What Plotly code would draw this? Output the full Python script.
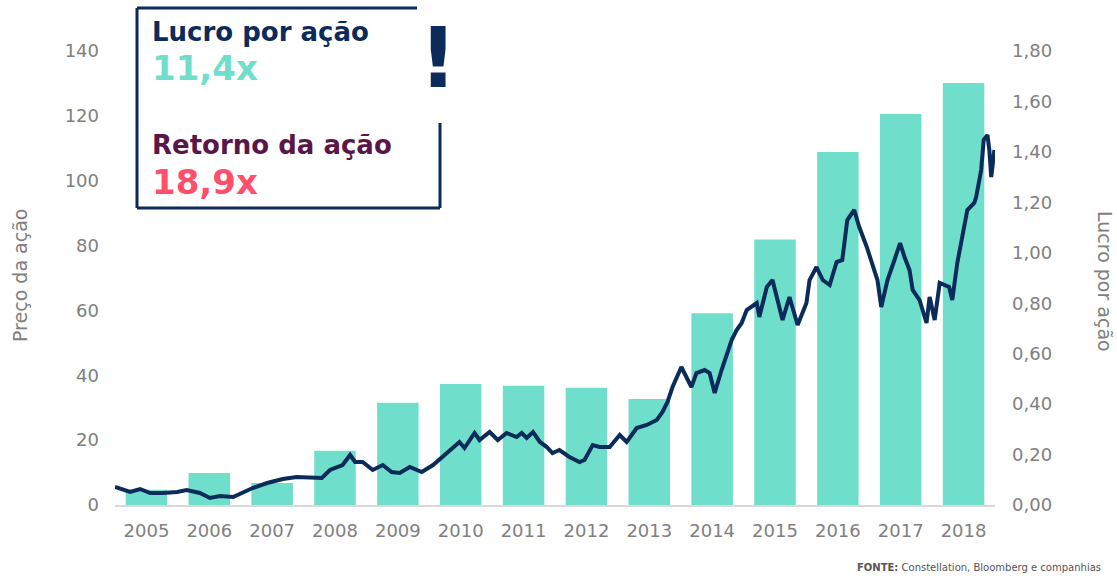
import plotly.graph_objects as go

# ---- data ----
years = [2005, 2006, 2007, 2008, 2009, 2010, 2011, 2012, 2013, 2014, 2015, 2016, 2017, 2018]
year_labels = [str(y) for y in years]
eps = [0.06, 0.127, 0.087, 0.215, 0.405, 0.48, 0.473, 0.465, 0.42, 0.76, 1.053, 1.40, 1.55, 1.673]

price_t = [2004.50, 2004.63, 2004.74, 2004.90, 2005.06, 2005.26, 2005.49, 2005.64, 2005.85, 2006.01,
           2006.17, 2006.38, 2006.53, 2006.69, 2006.92, 2007.17, 2007.39, 2007.60, 2007.79, 2007.92,
           2008.12, 2008.24, 2008.32, 2008.44, 2008.60, 2008.76, 2008.90, 2009.03, 2009.19, 2009.38,
           2009.56, 2009.78, 2009.98, 2010.06, 2010.22, 2010.30, 2010.46, 2010.59, 2010.73, 2010.89,
           2010.97, 2011.05, 2011.15, 2011.26, 2011.37, 2011.46, 2011.57, 2011.73, 2011.89, 2011.97,
           2012.10, 2012.21, 2012.37, 2012.53, 2012.64, 2012.80, 2012.96, 2013.12, 2013.21, 2013.29,
           2013.37, 2013.51, 2013.67, 2013.75, 2013.88, 2013.96, 2014.04, 2014.15, 2014.31, 2014.39,
           2014.47, 2014.55, 2014.71, 2014.75, 2014.87, 2014.96, 2015.04, 2015.12, 2015.23, 2015.28,
           2015.36, 2015.50, 2015.55, 2015.66, 2015.76, 2015.87, 2015.98, 2016.07, 2016.15, 2016.26,
           2016.34, 2016.46, 2016.55, 2016.63, 2016.69, 2016.79, 2016.90, 2016.99, 2017.06, 2017.14,
           2017.19, 2017.30, 2017.41, 2017.46, 2017.54, 2017.62, 2017.77, 2017.82, 2017.90, 2017.98,
           2018.06, 2018.17, 2018.20, 2018.28, 2018.32, 2018.38, 2018.41, 2018.44, 2018.49]
price = [5.55, 4.63, 4.01, 4.93, 3.70, 3.70, 4.01, 4.63, 3.70, 2.16,
         2.78, 2.47, 3.70, 5.24, 6.78, 8.02, 8.63, 8.63, 8.33, 10.79,
         12.33, 15.42, 13.26, 13.26, 10.79, 12.33, 10.18, 9.87, 11.72, 10.18,
         12.33, 16.03, 19.43, 17.58, 22.20, 20.04, 22.51, 20.04, 22.20, 20.97,
         22.20, 20.66, 22.51, 19.43, 17.88, 16.03, 16.96, 14.80, 13.26, 13.88,
         18.50, 17.88, 17.88, 21.59, 19.43, 23.74, 24.67, 26.21, 28.68, 31.76,
         36.39, 42.55, 36.39, 40.70, 41.63, 40.70, 34.54, 41.63, 50.88, 53.96,
         56.12, 60.13, 62.29, 57.97, 67.22, 69.38, 63.21, 57.05, 64.14, 61.05,
         55.50, 62.29, 69.38, 73.39, 69.38, 67.84, 74.93, 75.55, 87.88, 90.97,
         85.72, 79.56, 74.62, 69.38, 61.05, 69.38, 75.55, 80.79, 76.47, 72.46,
         66.30, 63.21, 56.12, 64.14, 57.05, 68.46, 67.22, 63.21, 74.62, 82.64,
         90.97, 93.12, 94.97, 103.30, 112.55, 114.09, 109.47, 101.14, 109.47]

NAVY = "#0B2B5B"
TEAL = "#6FDFCB"
GRAY = "#808080"
FONT = "DejaVu Sans"

fig = go.Figure()
fig.add_trace(go.Bar(x=years, y=eps, width=0.66, marker=dict(color=TEAL, line=dict(width=0)),
                     yaxis="y", name="Lucro por ação"))
fig.add_trace(go.Scatter(x=price_t, y=price, mode="lines", line=dict(color=NAVY, width=4),
                         yaxis="y2", name="Preço da ação"))

L, R, T, B = 115, 122, 51, 71
W, H = 1117, 576
pw, ph = W - L - R, H - T - B


def px(x):
    return (x - L) / pw


def py(y):
    return (H - B - y) / ph


fig.update_layout(
    width=W, height=H,
    margin=dict(l=L, r=R, t=T, b=B),
    paper_bgcolor="white", plot_bgcolor="white",
    separators=",.",
    showlegend=False,
    font=dict(family=FONT, color=GRAY, size=18),
    xaxis=dict(range=[2004.5, 2018.5], tickvals=years, ticktext=year_labels,
               showgrid=False, zeroline=False, showline=True, linecolor="#D9D9D9", linewidth=1.5,
               ticks="", ticklabelstandoff=9, tickfont=dict(size=18, color=GRAY)),
    yaxis=dict(range=[0, 1.8], side="right", tickvals=[i * 0.2 for i in range(10)], tickformat=".2f",
               showgrid=False, zeroline=False, showline=False, ticks="",
               ticklabelstandoff=16, tickfont=dict(size=18, color=GRAY)),
    yaxis2=dict(range=[0, 140], side="left", overlaying="y", tickvals=list(range(0, 141, 20)),
                showgrid=False, zeroline=False, showline=False, ticks="",
                ticklabelstandoff=15, tickfont=dict(size=18, color=GRAY)),
)

# text box
bx0, bx1, by0, by1 = px(137), px(440), py(8), py(208)
lw = 3
fig.add_shape(type="line", xref="paper", yref="paper", x0=bx0, x1=px(417), y0=by0, y1=by0,
              line=dict(color=NAVY, width=lw))
fig.add_shape(type="line", xref="paper", yref="paper", x0=bx0, x1=bx0, y0=by0, y1=by1,
              line=dict(color=NAVY, width=lw))
fig.add_shape(type="line", xref="paper", yref="paper", x0=bx0, x1=bx1, y0=by1, y1=by1,
              line=dict(color=NAVY, width=lw))
fig.add_shape(type="line", xref="paper", yref="paper", x0=bx1, x1=bx1, y0=py(123), y1=by1,
              line=dict(color=NAVY, width=lw))


def ann(text, x, y, size, color, xanchor="left", bold=True, angle=0, family=FONT):
    fig.add_annotation(text=f"<b>{text}</b>" if bold else text, xref="paper", yref="paper",
                       x=x, y=y, xanchor=xanchor, yanchor="middle", showarrow=False,
                       textangle=angle, font=dict(family=family, size=size, color=color))


ann("Lucro por ação", px(150), py(32), 26, NAVY)
ann("11,4x", px(150), py(68), 34, TEAL)
ann("Retorno da ação", px(150), py(145), 26, "#5B1649")
ann("18,9x", px(150), py(182), 34, "#FF4F6B")
ann("!", px(438), py(58), 84, NAVY, xanchor="center")

ann("Preço da ação", px(20), py(276), 19, GRAY, xanchor="center", bold=False, angle=-90)
ann("Lucro por ação", px(1105), py(281), 19, GRAY, xanchor="center", bold=False, angle=90)
ann("<b>FONTE:</b> Constellation, Bloomberg e companhias", px(1103), py(567), 10, "#555555",
    xanchor="right", bold=False)

fig.write_html("out.html", post_script="document.body.style.margin='0px';",
               config={"displayModeBar": False})
